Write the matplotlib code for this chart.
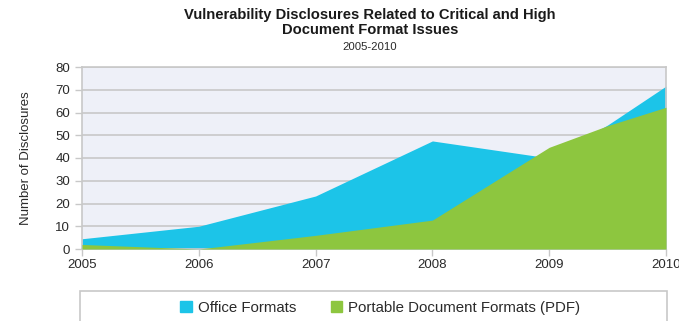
import matplotlib.pyplot as plt
from matplotlib.patches import Rectangle, Patch

plt.rcParams['font.family'] = ['Liberation Sans', 'DejaVu Sans']

# datos
anios = [2005, 2006, 2007, 2008, 2009, 2009.5, 2010]
office = [4.5, 10, 23.3, 47.5, 40, 54.5, 71.6]
pdf = [2, 0, 6, 12.7, 44.7, 54.2, 62.3]
etiquetas_x = [2005, 2006, 2007, 2008, 2009, 2010]
etiquetas_y = [0, 10, 20, 30, 40, 50, 60, 70, 80]

azul = '#1cc4e8'
verde = '#8dc63f'
gris = '#c8c8c8'
texto = '#2a2a2a'

fig = plt.figure(figsize=(6.79, 3.21), dpi=100)
ax = fig.add_axes([82 / 679, 72 / 321, 584 / 679, 182 / 321])
ax.set_facecolor('#eef0f8')

ax.fill_between(anios, office, 0, color=azul, linewidth=0, zorder=2)
ax.fill_between(anios, pdf, 0, color=verde, linewidth=0, zorder=3)

ax.set_xlim(2005, 2010)
ax.set_ylim(0, 80)
ax.set_xticks(etiquetas_x)
ax.set_yticks(etiquetas_y)
ax.grid(axis='y', color=gris, linewidth=1.2, zorder=1)
ax.set_axisbelow(True)
for lado in ['top', 'right', 'left', 'bottom']:
    ax.spines[lado].set_color(gris)
    ax.spines[lado].set_linewidth(1.2)
ax.tick_params(axis='both', colors=gris, labelcolor=texto, labelsize=9.5,
               length=5, width=1)
ax.tick_params(axis='x', pad=2)
ax.set_ylabel('Number of Disclosures', fontsize=9.5, color=texto, labelpad=17)

fig.text(0.545, 0.975, 'Vulnerability Disclosures Related to Critical and High\nDocument Format Issues',
         ha='center', va='top', fontsize=10.6, fontweight='bold', linespacing=1.05,
         color='#1a1a1a')
fig.text(0.545, 0.868, '2005-2010', ha='center', va='top', fontsize=8.2, color=texto)

# caja de la leyenda
caja = Rectangle((80 / 679, -0.05), 587 / 679, (321 - 291) / 321 + 0.05,
                 transform=fig.transFigure, facecolor='white', edgecolor=gris,
                 linewidth=1.2)
fig.patches.append(caja)
manejadores = [Patch(color=azul, label='Office Formats'),
               Patch(color=verde, label='Portable Document Formats (PDF)')]
fig.legend(handles=manejadores, loc='center', bbox_to_anchor=(0.56, 0.04),
           ncol=2, frameon=False, fontsize=10.8, handlelength=0.75, handleheight=0.75,
           handletextpad=0.4, columnspacing=2.3, labelcolor=texto)

fig.savefig('out.png', dpi=100)
